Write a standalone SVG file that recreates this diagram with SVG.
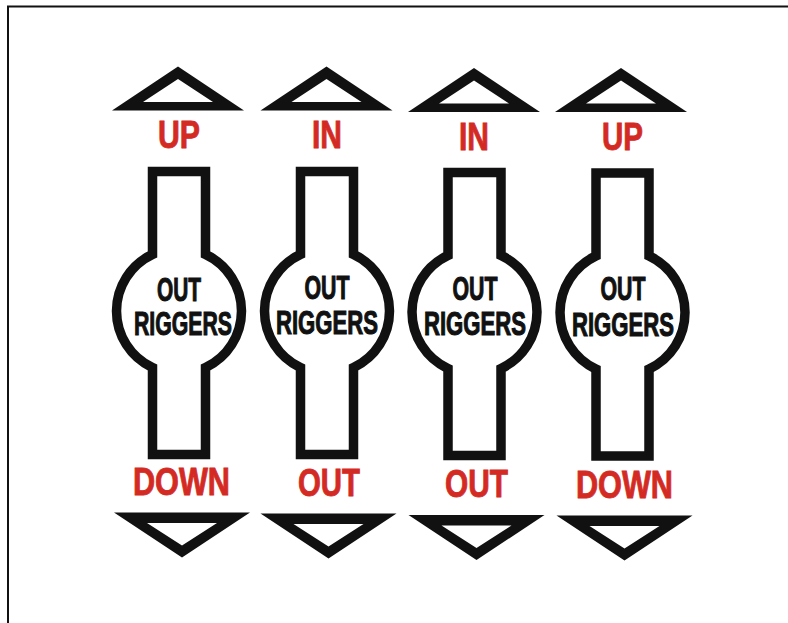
<svg xmlns="http://www.w3.org/2000/svg" xmlns:xlink="http://www.w3.org/1999/xlink" width="788" height="623" viewBox="0 0 788 623">
  <style>
    .tri { fill: #111; fill-rule: evenodd; }
    .body { fill: #fff; stroke: #111; stroke-width: 9.5; stroke-linejoin: miter; }
    .lbl { font-family: "Liberation Sans", Arial, sans-serif; font-weight: bold; fill: #d42a24; stroke: #d42a24; stroke-width: 0.9; text-anchor: middle; }
    .top { font-size: 39px; }
    .bot { font-size: 38px; }
    .name { font-family: "Liberation Sans", Arial, sans-serif; font-weight: bold; font-size: 33px; fill: #111; stroke: #111; stroke-width: 1.1; text-anchor: middle; }
    .frame { stroke: #111; stroke-width: 2; fill: none; }
  </style>
  <defs>
    <path id="upTri" class="tri" d="M -66 110.5 L 0 66.5 L 66 110.5 Z M -35 102 L 35 102 L 0 79 Z"/>
    <path id="downTri" class="tri" d="M -68 512.5 L 68 512.5 L 0 557.5 Z M -35 523 L 0 545.5 L 35 523 Z"/>
    <path id="body" class="body" d="M -26.5 171.5 H 26.5 V 254.4 A 62.5 62.5 0 0 1 26.5 367.6 V 454.5 H -26.5 V 367.6 A 62.5 62.5 0 0 1 -26.5 254.4 Z"/>
  </defs>
  <rect x="0" y="0" width="788" height="623" fill="#fff"/>
  <path class="frame" d="M 8 623 V 6.5 H 788"/>

  <g id="col1">
    <use xlink:href="#upTri" transform="translate(178,0)"/>
    <text class="lbl top" x="179" y="148" textLength="42" lengthAdjust="spacingAndGlyphs">UP</text>
    <use xlink:href="#body" transform="translate(179,0)"/>
    <text class="name" x="179" y="301" textLength="44" lengthAdjust="spacingAndGlyphs">OUT</text>
    <text class="name" x="183" y="335" textLength="98" lengthAdjust="spacingAndGlyphs">RIGGERS</text>
    <text class="lbl bot" x="181.5" y="495" textLength="97" lengthAdjust="spacingAndGlyphs">DOWN</text>
    <use xlink:href="#downTri" transform="translate(182,0)"/>
  </g>

  <g id="col2">
    <use xlink:href="#upTri" transform="translate(326.5,0)"/>
    <text class="lbl top" x="327" y="148" textLength="30" lengthAdjust="spacingAndGlyphs">IN</text>
    <use xlink:href="#body" transform="translate(327,0)"/>
    <text class="name" x="327" y="299" textLength="45" lengthAdjust="spacingAndGlyphs">OUT</text>
    <text class="name" x="327" y="334" textLength="102" lengthAdjust="spacingAndGlyphs">RIGGERS</text>
    <text class="lbl bot" x="329" y="496" textLength="62" lengthAdjust="spacingAndGlyphs">OUT</text>
    <use xlink:href="#downTri" transform="translate(328.5,1)"/>
  </g>

  <g id="col3">
    <use xlink:href="#upTri" transform="translate(474,1.5)"/>
    <text class="lbl top" x="474" y="150" textLength="30" lengthAdjust="spacingAndGlyphs">IN</text>
    <use xlink:href="#body" transform="translate(474.5,1)"/>
    <text class="name" x="475" y="300" textLength="45" lengthAdjust="spacingAndGlyphs">OUT</text>
    <text class="name" x="475" y="335" textLength="102" lengthAdjust="spacingAndGlyphs">RIGGERS</text>
    <text class="lbl bot" x="476.5" y="497" textLength="63" lengthAdjust="spacingAndGlyphs">OUT</text>
    <use xlink:href="#downTri" transform="translate(476.5,2.5)"/>
  </g>

  <g id="col4">
    <use xlink:href="#upTri" transform="translate(621,1.5)"/>
    <text class="lbl top" x="622.5" y="150" textLength="41" lengthAdjust="spacingAndGlyphs">UP</text>
    <use xlink:href="#body" transform="translate(622.5,1.5)"/>
    <text class="name" x="623" y="300" textLength="45" lengthAdjust="spacingAndGlyphs">OUT</text>
    <text class="name" x="623" y="336" textLength="102" lengthAdjust="spacingAndGlyphs">RIGGERS</text>
    <text class="lbl bot" x="624.5" y="498" textLength="97" lengthAdjust="spacingAndGlyphs">DOWN</text>
    <use xlink:href="#downTri" transform="translate(624.5,3)"/>
  </g>
</svg>
